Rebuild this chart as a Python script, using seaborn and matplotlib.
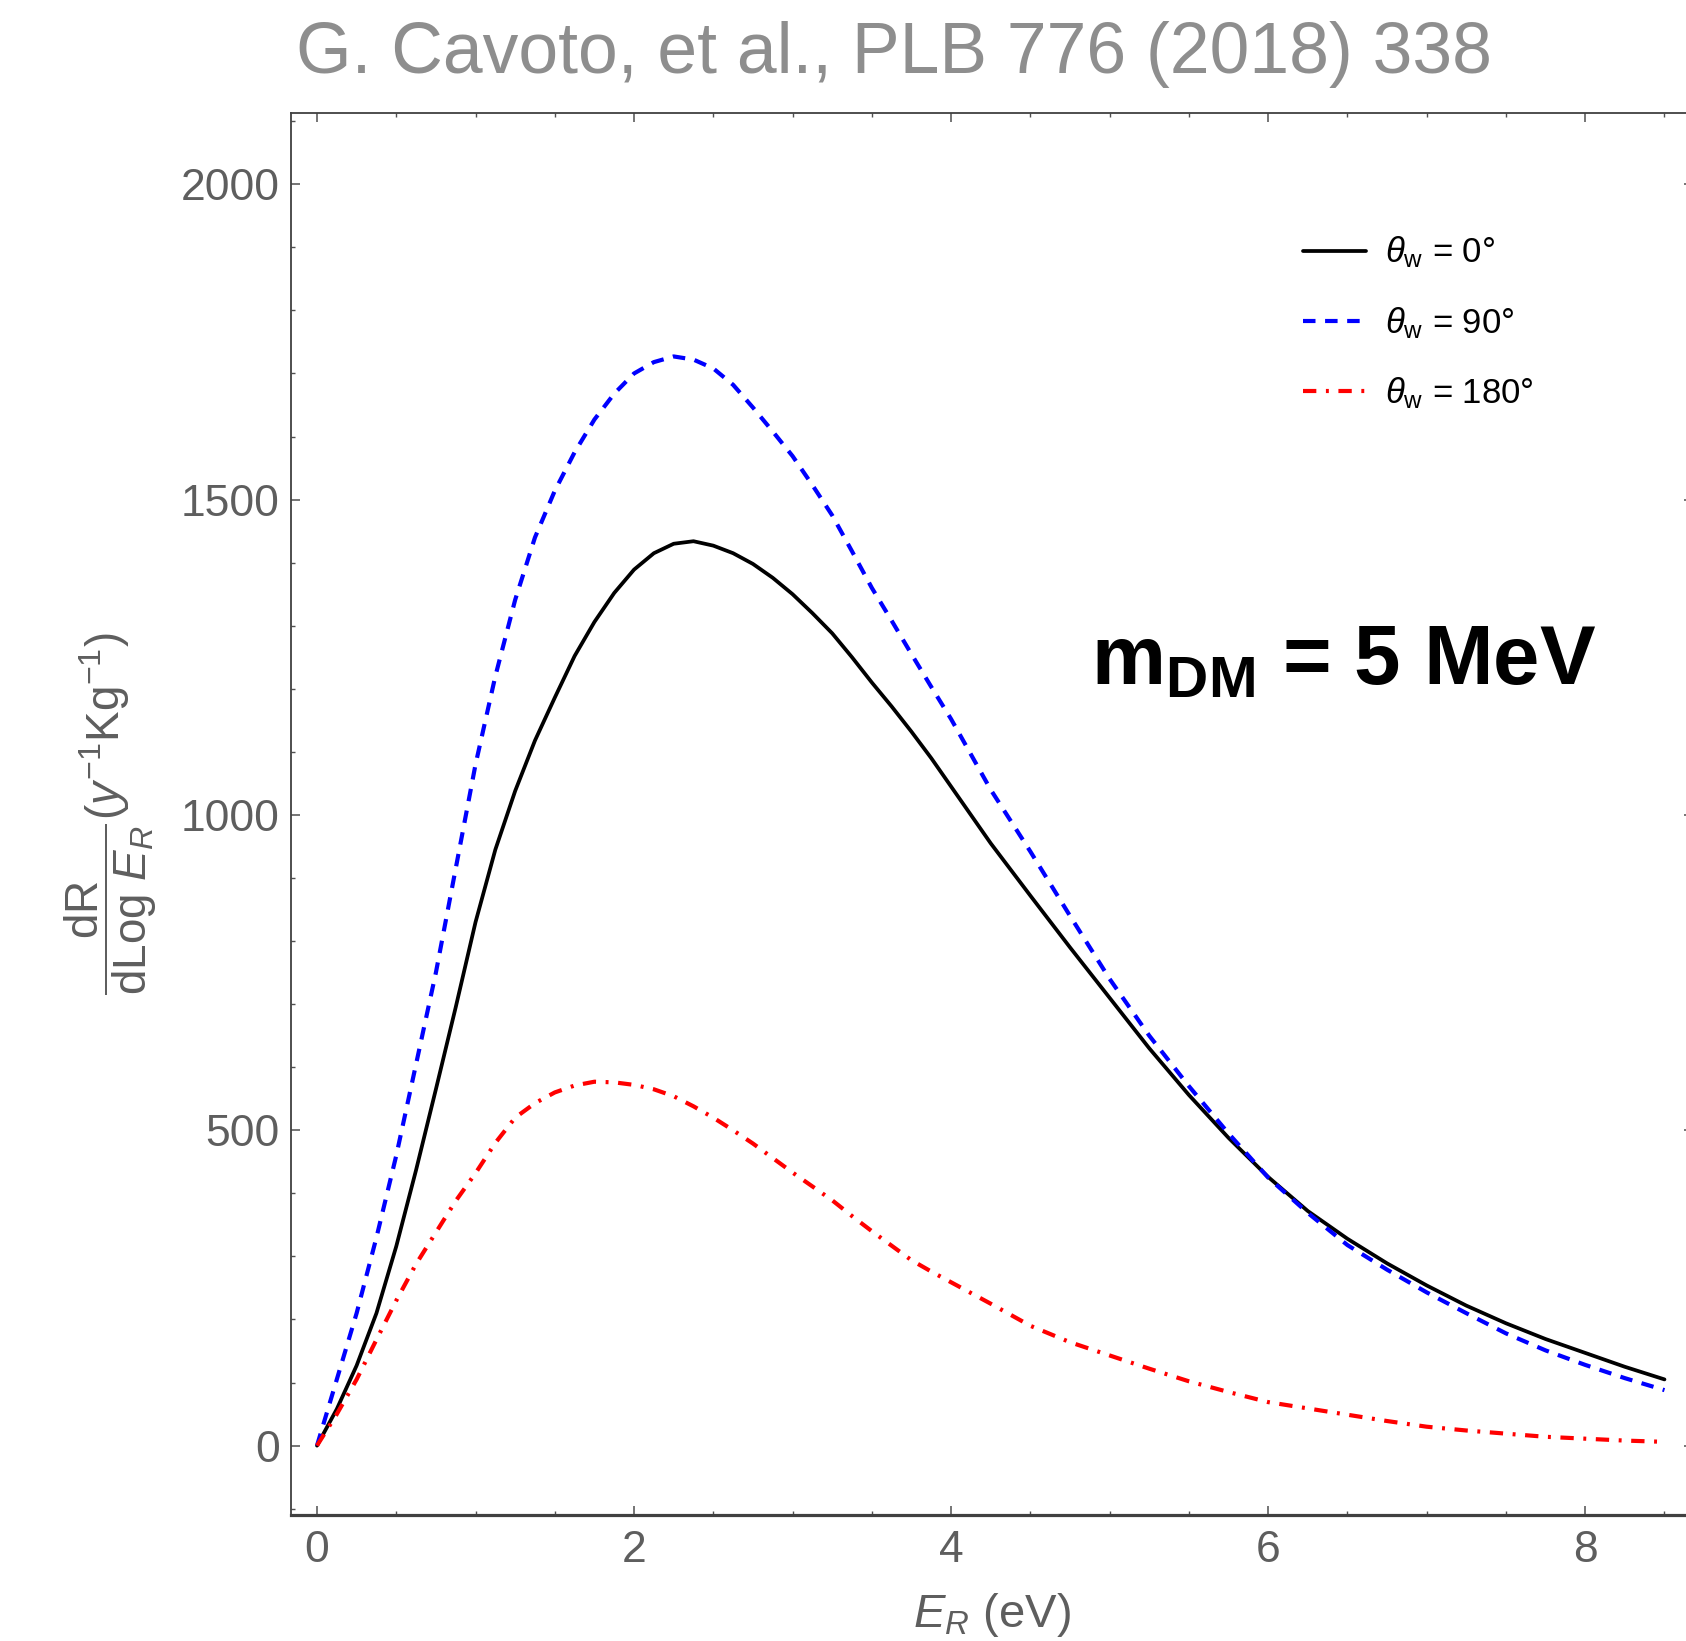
import matplotlib
matplotlib.use("Agg")
import matplotlib.pyplot as plt
from matplotlib.ticker import MultipleLocator
import seaborn as sns
import pandas as pd

# ---- data ----
energy = [0.0, 0.125, 0.25, 0.375, 0.5, 0.625, 0.75, 0.875, 1.0, 1.125, 1.25, 1.375,
          1.5, 1.625, 1.75, 1.875, 2.0, 2.125, 2.25, 2.375, 2.5, 2.625, 2.75, 2.875,
          3.0, 3.125, 3.25, 3.375, 3.5, 3.625, 3.75, 3.875, 4.0,
          4.25, 4.5, 4.75, 5.0, 5.25, 5.5, 5.75, 6.0, 6.25, 6.5, 6.75, 7.0, 7.25,
          7.5, 7.75, 8.0, 8.25, 8.5]
rate_0 = [0, 58, 127, 210, 316, 437, 565, 695, 830, 945, 1038, 1118,
          1186, 1252, 1306, 1352, 1389, 1415, 1430, 1434, 1427, 1415, 1398, 1376,
          1350, 1320, 1288, 1250, 1210, 1172, 1132, 1090, 1045,
          955, 872, 790, 710, 630, 556, 488, 426, 372, 328, 289, 254, 222,
          194, 169, 147, 125, 105]
rate_90 = [0, 105, 210, 330, 460, 605, 750, 915, 1080, 1220, 1341, 1440,
           1514, 1575, 1627, 1668, 1700, 1718, 1727, 1722, 1708, 1682, 1646, 1608,
           1569, 1523, 1475, 1418, 1360, 1308, 1255, 1203, 1152,
           1040, 942, 840, 740, 650, 570, 495, 425, 369, 318, 279, 243, 210,
           178, 151, 128, 107, 88]
rate_180 = [0, 50, 105, 168, 230, 288, 338, 388, 432, 480, 520, 543,
            560, 571, 577, 576, 572, 565, 554, 538, 520, 500, 479, 456,
            433, 411, 389, 364, 340, 317, 294, 276, 259,
            225, 190, 164, 143, 122, 102, 85, 69, 59, 49, 39, 30, 24,
            19, 14, 11, 8, 6]
labels = [r"$\theta_{\mathrm{w}}$ = 0°", r"$\theta_{\mathrm{w}}$ = 90°", r"$\theta_{\mathrm{w}}$ = 180°"]
x_ticks = [0, 2, 4, 6, 8]
y_ticks = [0, 500, 1000, 1500, 2000]
title_text = "G. Cavoto, et al., PLB 776 (2018) 338"
note_text = r"m$_{\mathbf{DM}}$ = 5 MeV"

sns.set_theme(style="ticks")
plt.rcParams["font.family"] = ["Liberation Sans", "DejaVu Sans"]
plt.rcParams["mathtext.fontset"] = "custom"
plt.rcParams["mathtext.rm"] = "Liberation Sans"
plt.rcParams["mathtext.it"] = "Liberation Sans:italic"
plt.rcParams["mathtext.bf"] = "Liberation Sans:bold"

W, H, DPI = 1686, 1641, 100
fig = plt.figure(figsize=(W / DPI, H / DPI), dpi=DPI)
fig.patch.set_facecolor("white")
ax = fig.add_axes([291 / W, 1 - 1515 / H, (1693 - 291) / W, (1515 - 113) / H])
ax.set_facecolor("white")

df = pd.DataFrame({"E": energy, "r0": rate_0, "r90": rate_90, "r180": rate_180})
sns.lineplot(data=df, x="E", y="r0", ax=ax, color="black", linewidth=2.7,
             label=labels[0], estimator=None, sort=False)
sns.lineplot(data=df, x="E", y="r90", ax=ax, color="#0000ff", linewidth=3.0,
             linestyle=(0, (3.0, 2.3)), label=labels[1], estimator=None, sort=False)
sns.lineplot(data=df, x="E", y="r180", ax=ax, color="#ff0000", linewidth=3.0,
             linestyle=(0, (3.2, 2.3, 0.7, 2.3)), label=labels[2], estimator=None, sort=False)

ax.set_xlim(-0.164, 8.68)
ax.set_ylim(-110, 2113)
ax.set_xticks(x_ticks)
ax.set_yticks(y_ticks)
ax.xaxis.set_minor_locator(MultipleLocator(0.5))
ax.yaxis.set_minor_locator(MultipleLocator(100))

tick_gray = "#5e5e5e"
for side in ["left", "right", "top", "bottom"]:
    ax.spines[side].set_visible(True)
    ax.spines[side].set_color("#404040")
    ax.spines[side].set_linewidth(1.3)
ax.spines["bottom"].set_linewidth(2.3)
ax.tick_params(which="both", direction="in", top=True, right=True, color="#505050")
ax.tick_params(which="major", length=6.5, width=1.1, labelsize=32, labelcolor=tick_gray)
ax.tick_params(which="minor", length=3.2, width=1.0)
ax.tick_params(axis="x", which="major", pad=11)
ax.tick_params(axis="y", which="major", pad=8)

ax.set_xlabel(r"$E_R$ (eV)", fontsize=34, color=tick_gray, labelpad=14)
ax.set_ylabel(r"$\dfrac{\mathrm{dR}}{\mathrm{dLog}\ E_R}(y^{-1}\mathrm{Kg}^{-1})$",
              fontsize=33, color=tick_gray, labelpad=16)

leg = ax.legend(loc="center left", bbox_to_anchor=(1303 / W, 1 - 323 / H),
                bbox_transform=fig.transFigure, frameon=False, fontsize=25,
                handlelength=1.8, handletextpad=0.55, labelspacing=1.0,
                borderpad=0, borderaxespad=0)
for t in leg.get_texts():
    t.set_color("black")

fig.text(1091 / W, 1 - 685 / H, note_text, fontsize=60, fontweight="bold",
         color="black", ha="left", va="baseline")
fig.text(296 / W, 1 - 73 / H, title_text, fontsize=51.5, color="#8e8e8e",
         ha="left", va="baseline")

fig.savefig("out.png", dpi=DPI, facecolor="white")
